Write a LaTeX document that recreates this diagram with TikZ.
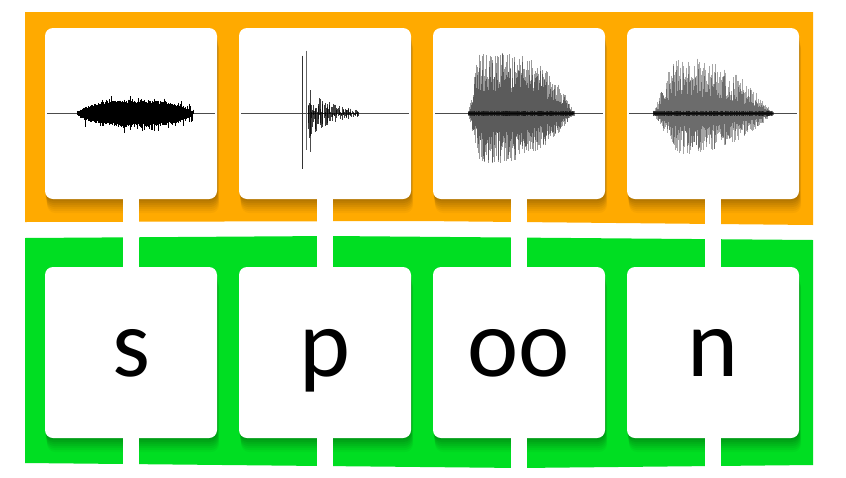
\documentclass[tikz,border=0pt]{standalone}
\usepackage{fontspec}
\usepackage{tikz}
\usetikzlibrary{positioning,shadows}
\newfontfamily\cardfont{Carlito}
\definecolor{bandorange}{RGB}{255,170,0}
\definecolor{bandgreen}{RGB}{0,222,34}
\tikzset{
  softshadow/.style={
    general shadow={fill=black,opacity=.05,shadow xshift=.3pt,shadow yshift=-2pt},
    general shadow={fill=black,opacity=.05,shadow xshift=.6pt,shadow yshift=-4pt},
    general shadow={fill=black,opacity=.05,shadow xshift=.9pt,shadow yshift=-6pt},
    general shadow={fill=black,opacity=.05,shadow xshift=1.2pt,shadow yshift=-8pt},
    general shadow={fill=black,opacity=.04,shadow xshift=1.5pt,shadow yshift=-10pt},
    general shadow={fill=black,opacity=.04,shadow xshift=1.8pt,shadow yshift=-12pt},
    general shadow={fill=black,opacity=.03,shadow xshift=2.1pt,shadow yshift=-14pt}},
  card/.style={fill=white,rounded corners=8pt,minimum width=172pt,minimum height=171pt,
    inner sep=0pt,outer sep=0pt,softshadow,
    font=\cardfont\fontsize{97}{97}\selectfont,text height=47pt,text depth=0pt},
  link/.style={draw=white,line width=16pt},
  axis/.style={draw=black!70,line width=.8pt},
  trace/.style={draw=black,line width=.5pt}
}
\begin{document}
\begin{tikzpicture}[x=1pt,y=-1pt]
  \useasboundingbox (0,0) rectangle (846,477);
  \fill[white] (0,0) rectangle (846,477);
  \coordinate (floor) at (0,474);

  %bands
  \fill[bandorange] (25,12) -- (813,12) -- (813,225) -- (420,221) -- (25,222) -- cycle;
  \fill[bandgreen] (25,238) -- (330,236) -- (813,240) -- (813,465) -- (520,468) -- (25,463) -- cycle;

  %sound cards
  \node[card] (w1) at (131,113.5) {};
  \node[card,right=22pt of w1] (w2) {};
  \node[card,right=22pt of w2] (w3) {};
  \node[card,right=22pt of w3] (w4) {};

  %letter cards
  \node[card,below=68pt of w1] (l1) {s};
  \node[card,right=22pt of l1] (l2) {p};
  \node[card,right=22pt of l2] (l3) {oo};
  \node[card,right=22pt of l3] (l4) {n};

  %w>l
  \draw[link] (w1.south) -- (l1.north);
  \draw[link] (w2.south) -- (l2.north);
  \draw[link] (w3.south) -- (l3.north);
  \draw[link] (w4.south) -- (l4.north);

  %l>floor
  \draw[link] (l1.south) -- (l1.south |- floor);
  \draw[link] (l2.south) -- (l2.south |- floor);
  \draw[link] (l3.south) -- (l3.south |- floor);
  \draw[link] (l4.south) -- (l4.south |- floor);

  %zero lines
  \draw[axis] ([xshift=2pt]w1.west) -- ([xshift=-2pt]w1.east);
  \draw[axis] ([xshift=2pt]w2.west) -- ([xshift=-2pt]w2.east);
  \draw[axis] ([xshift=2pt]w3.west) -- ([xshift=-2pt]w3.east);
  \draw[axis] ([xshift=2pt]w4.west) -- ([xshift=-2pt]w4.east);

  \pgfmathsetseed{11}
  %s
  \foreach \t in {-54,-53.6,...,62}{
    \pgfmathsetmacro\env{14*sqrt(max(0.001,sin((\t+54)/116*180)))}
    \pgfmathsetmacro\up{\env*(0.65+0.35*rnd)+(rnd>0.85)*6*rnd}
    \pgfmathsetmacro\dn{\env*(0.65+0.35*rnd)+(rnd>0.85)*7*rnd}
    \draw[trace] ([shift={(\t pt,\up pt)}]w1.center) -- ([shift={(\t pt,-\dn pt)}]w1.center);
  }

  %p
  \draw[trace,black!80,line width=.9pt] ([shift={(-23pt,58pt)}]w2.center) -- ([shift={(-23pt,-55pt)}]w2.center);
  \draw[trace,black!60,line width=.8pt] ([shift={(-19pt,63pt)}]w2.center) -- ([shift={(-19pt,-36pt)}]w2.center);
  \draw[trace,black!70,line width=.8pt] ([shift={(-15pt,10pt)}]w2.center) -- ([shift={(-15pt,-38pt)}]w2.center);
  \foreach \t in {-17,-16.3,...,34}{
    \pgfmathsetmacro\env{26*exp(-(\t+17)/26)}
    \pgfmathsetmacro\up{\env*rnd}
    \pgfmathsetmacro\dn{\env*rnd}
    \draw[trace,opacity=.75] ([shift={(\t pt,\up pt)}]w2.center) -- ([shift={(\t pt,-\dn pt)}]w2.center);
  }

  %oo
  \foreach \t in {-51,-50.5,...,55}{
    \pgfmathsetmacro\u{(\t+51)/106}
    \pgfmathsetmacro\up{62*min(1,\u/0.1)*(1-\u*\u*\u*\u)*(0.35+0.65*rnd)}
    \pgfmathsetmacro\dn{52*min(1,\u/0.12)*(1-\u*\u*\u)*(0.35+0.65*rnd)}
    \pgfmathsetmacro\core{1+2*rnd}
    \draw[trace,opacity=.4] ([shift={(\t pt,\up pt)}]w3.center) -- ([shift={(\t pt,-\dn pt)}]w3.center);
    \draw[trace,opacity=.5] ([shift={(\t pt,\core pt)}]w3.center) -- ([shift={(\t pt,-\core pt)}]w3.center);
  }

  %n
  \foreach \t in {-60,-59.5,...,60}{
    \pgfmathsetmacro\u{(\t+60)/120}
    \pgfmathsetmacro\up{58*min(1,\u/0.17)*(1-\u*\u*\u)*(0.3+0.7*rnd)}
    \pgfmathsetmacro\dn{42*min(1,\u/0.2)*(1-\u*\u*\u)*(0.3+0.7*rnd)}
    \pgfmathsetmacro\core{1+2*rnd}
    \draw[trace,opacity=.35] ([shift={(\t pt,\up pt)}]w4.center) -- ([shift={(\t pt,-\dn pt)}]w4.center);
    \draw[trace,opacity=.5] ([shift={(\t pt,\core pt)}]w4.center) -- ([shift={(\t pt,-\core pt)}]w4.center);
  }
\end{tikzpicture}
\end{document}
